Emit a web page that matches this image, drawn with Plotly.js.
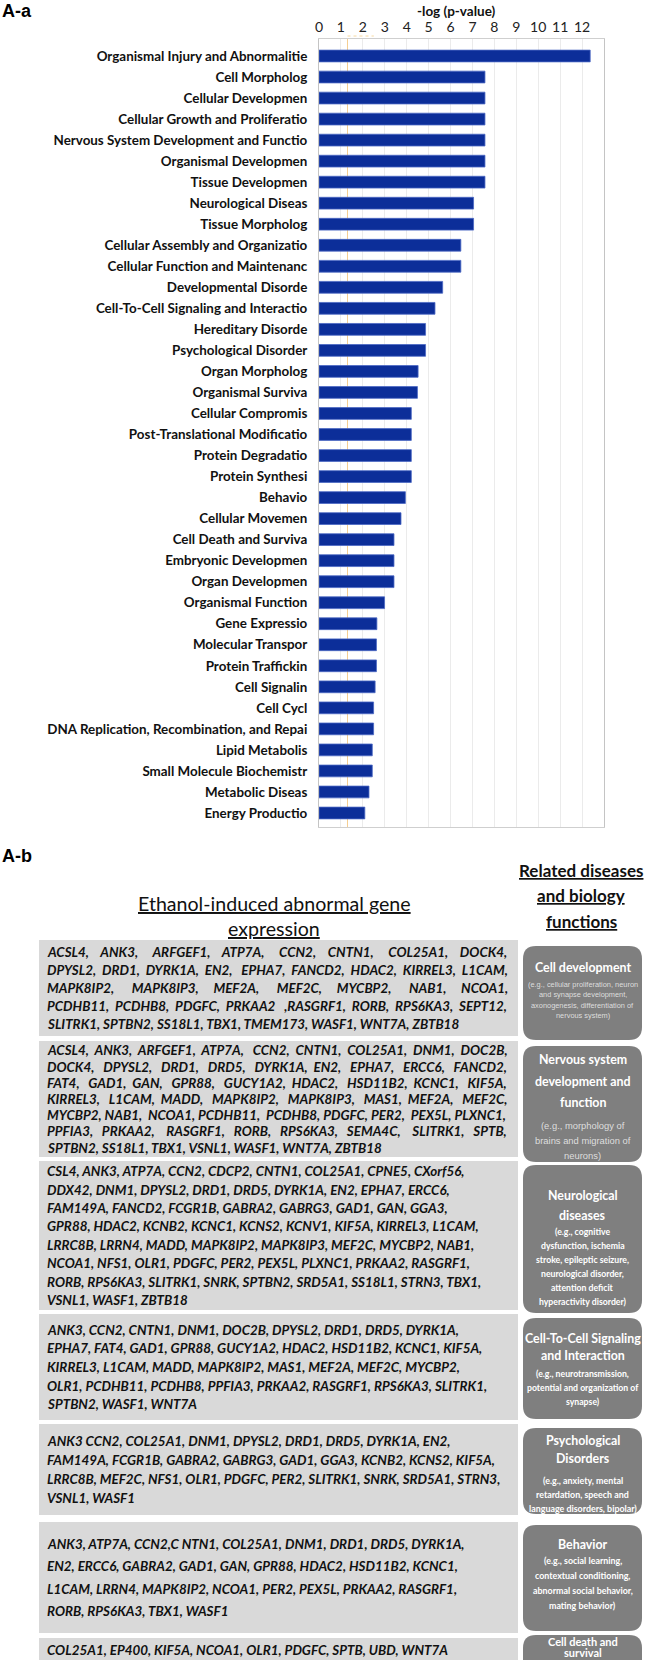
<!DOCTYPE html>
<html><head><meta charset="utf-8">
<script src="https://cdn.plot.ly/plotly-3.0.1.min.js"></script>
<style>html,body{margin:0;padding:0;background:#fff;}#chart{width:645px;height:1660px;}</style>
</head><body><div id="chart"></div>
<script>
// ---------------- DATA ----------------
const categories = ["Organismal Injury and Abnormalitie","Cell Morpholog","Cellular Developmen","Cellular Growth and Proliferatio","Nervous System Development and Functio","Organismal Developmen","Tissue Developmen","Neurological Diseas","Tissue Morpholog","Cellular Assembly and Organizatio","Cellular Function and Maintenanc","Developmental Disorde","Cell-To-Cell Signaling and Interactio","Hereditary Disorde","Psychological Disorder","Organ Morpholog","Organismal Surviva","Cellular Compromis","Post-Translational Modificatio","Protein Degradatio","Protein Synthesi","Behavio","Cellular Movemen","Cell Death and Surviva","Embryonic Developmen","Organ Developmen","Organismal Function","Gene Expressio","Molecular Transpor","Protein Traffickin","Cell Signalin","Cell Cycl","DNA Replication, Recombination, and Repai","Lipid Metabolis","Small Molecule Biochemistr","Metabolic Diseas","Energy Productio"];
const negLogP = [12.37,7.57,7.57,7.57,7.57,7.57,7.57,7.05,7.05,6.47,6.47,5.64,5.29,4.86,4.86,4.52,4.49,4.21,4.21,4.21,4.21,3.94,3.74,3.42,3.42,3.42,2.99,2.64,2.62,2.62,2.56,2.49,2.49,2.43,2.43,2.28,2.09];
const threshold = 1.3;
const xTickVals = [0,1,2,3,4,5,6,7,8,9,10,11,12];
const xTitle = "-log (p-value)";

const geneBox1 = ["ACSL4, ANK3, ARFGEF1, ATP7A, CCN2, CNTN1, COL25A1, DOCK4,","DPYSL2, DRD1, DYRK1A, EN2, EPHA7, FANCD2, HDAC2, KIRREL3, L1CAM,","MAPK8IP2, MAPK8IP3, MEF2A, MEF2C, MYCBP2, NAB1, NCOA1,","PCDHB11, PCDHB8, PDGFC, PRKAA2 ,RASGRF1, RORB, RPS6KA3, SEPT12,","SLITRK1, SPTBN2, SS18L1, TBX1, TMEM173, WASF1, WNT7A, ZBTB18"];
const geneBox2 = ["ACSL4, ANK3, ARFGEF1, ATP7A, CCN2, CNTN1, COL25A1, DNM1, DOC2B,","DOCK4, DPYSL2, DRD1, DRD5, DYRK1A, EN2, EPHA7, ERCC6, FANCD2,","FAT4, GAD1, GAN, GPR88, GUCY1A2, HDAC2, HSD11B2, KCNC1, KIF5A,","KIRREL3, L1CAM, MADD, MAPK8IP2, MAPK8IP3, MAS1, MEF2A, MEF2C,","MYCBP2, NAB1, NCOA1, PCDHB11, PCDHB8, PDGFC, PER2, PEX5L, PLXNC1,","PPFIA3, PRKAA2, RASGRF1, RORB, RPS6KA3, SEMA4C, SLITRK1, SPTB,","SPTBN2, SS18L1, TBX1, VSNL1, WASF1, WNT7A, ZBTB18"];
const geneBox3 = ["CSL4, ANK3, ATP7A, CCN2, CDCP2, CNTN1, COL25A1, CPNE5, CXorf56,","DDX42, DNM1, DPYSL2, DRD1, DRD5, DYRK1A, EN2, EPHA7, ERCC6,","FAM149A, FANCD2, FCGR1B, GABRA2, GABRG3, GAD1, GAN, GGA3,","GPR88, HDAC2, KCNB2, KCNC1, KCNS2, KCNV1, KIF5A, KIRREL3, L1CAM,","LRRC8B, LRRN4, MADD, MAPK8IP2, MAPK8IP3, MEF2C, MYCBP2, NAB1,","NCOA1, NFS1, OLR1, PDGFC, PER2, PEX5L, PLXNC1, PRKAA2, RASGRF1,","RORB, RPS6KA3, SLITRK1, SNRK, SPTBN2, SRD5A1, SS18L1, STRN3, TBX1,","VSNL1, WASF1, ZBTB18"];
const geneBox4 = ["ANK3, CCN2, CNTN1, DNM1, DOC2B, DPYSL2, DRD1, DRD5, DYRK1A,","EPHA7, FAT4, GAD1, GPR88, GUCY1A2, HDAC2, HSD11B2, KCNC1, KIF5A,","KIRREL3, L1CAM, MADD, MAPK8IP2, MAS1, MEF2A, MEF2C, MYCBP2,","OLR1, PCDHB11, PCDHB8, PPFIA3, PRKAA2, RASGRF1, RPS6KA3, SLITRK1,","SPTBN2, WASF1, WNT7A"];
const geneBox5 = ["ANK3 CCN2, COL25A1, DNM1, DPYSL2, DRD1, DRD5, DYRK1A, EN2,","FAM149A, FCGR1B, GABRA2, GABRG3, GAD1, GGA3, KCNB2, KCNS2, KIF5A,","LRRC8B, MEF2C, NFS1, OLR1, PDGFC, PER2, SLITRK1, SNRK, SRD5A1, STRN3,","VSNL1, WASF1"];
const geneBox6 = ["ANK3, ATP7A, CCN2,C NTN1, COL25A1, DNM1, DRD1, DRD5, DYRK1A,","EN2, ERCC6, GABRA2, GAD1, GAN, GPR88, HDAC2, HSD11B2, KCNC1,","L1CAM, LRRN4, MAPK8IP2, NCOA1, PER2, PEX5L, PRKAA2, RASGRF1,","RORB, RPS6KA3, TBX1, WASF1"];
const geneBox7 = ["COL25A1, EP400, KIF5A, NCOA1, OLR1, PDGFC, SPTB, UBD, WNT7A"];
const geneBoxes = [geneBox1, geneBox2, geneBox3, geneBox4, geneBox5, geneBox6, geneBox7];

const functionTitles = [["Cell development"],["Nervous system","development and","function"],["Neurological","diseases"],["Cell-To-Cell Signaling","and Interaction"],["Psychological","Disorders"],["Behavior"],["Cell death and","survival"]];
const functionExamples = [["(e.g., cellular proliferation, neuron","and synapse development,","axonogenesis, differentiation of","nervous system)"],["(e.g., morphology of","brains and migration of","neurons)"],["(e.g., cognitive","dysfunction, ischemia","stroke, epileptic seizure,","neurological disorder,","attention deficit","hyperactivity disorder)"],["(e.g., neurotransmission,","potential and organization of","synapse)"],["(e.g., anxiety, mental","retardation, speech and","language disorders, bipolar)"],["(e.g., social learning,","contextual conditioning,","abnormal social behavior,","mating behavior)"],[]];

const panelA = "A-a", panelB = "A-b";
const headerGenes = ["Ethanol-induced abnormal gene","expression"];
const headerFunctions = ["Related diseases","and biology","functions"];

// ---------------- LAYOUT / STYLE (pixels) ----------------
const W = 645, H = 1660;
const px = v => v / W;
const py = v => 1 - v / H;
const plotL = 319, plotR = 604, plotT = 39, plotB = 827;
const firstBarY = 56, lastBarY = 813;
const step = (lastBarY - firstBarY) / (categories.length - 1);
const yRange = [categories.length - 1 + (plotB - lastBarY) / step, -(firstBarY - plotT) / step];

const grayBoxes = [[940,1036],[1041,1157],[1161,1310],[1314,1420],[1424,1515],[1522,1633],[1638,1662]];
const darkBoxes = [[946,1040],[1046,1162],[1165,1313],[1318,1419],[1428,1514],[1525,1631],[1635,1675]];
const geneLineH = [18, 16.2, 18.4, 18.7, 19, 22.4, 18];
const justifyBox = [true,true,false,false,false,false,false];
const grayX = [39,518], darkX = [523,642];
const geneTextX = 46, justifyW = 460;
const geneFontSize = 13.4;
const titleYs = [[967],[1059,1081,1102],[1195,1215],[1338,1355],[1440,1458],[1544],[1641,1652]];
const descYs = [[984,994.5,1005,1015.5],[1125,1140,1155],[1231,1245,1259,1273,1287,1301],[1373,1387,1401],[1480,1494,1508],[1560,1575,1590,1605],[]];
const titleFont = {family:'Lato', size:12.4, weight:'bold', color:'#ffffff'};
const lastTitleFont = {family:'Lato', size:11, weight:'bold', color:'#ffffff'};
const descStyle = [
  {family:"Liberation Sans", size:7.4, color:"#dedede", weight:"normal"},
  {family:"Liberation Sans", size:9.4, color:"#dedede", weight:"normal"},
  {family:"Lato", size:8.7, color:"#ffffff", weight:"bold"},
  {family:"Lato", size:8.7, color:"#ffffff", weight:"bold"},
  {family:"Lato", size:8.9, color:"#ffffff", weight:"bold"},
  {family:"Lato", size:8.9, color:"#ffffff", weight:"bold"},
  {family:"Lato", size:8.9, color:"#ffffff", weight:"bold"}];

// text measurement for justified lines
const ctx = document.createElement('canvas').getContext('2d');
function measure(t, font){ ctx.font = font; return ctx.measureText(t).width; }
function justify(line, width, font){
  const words = line.split(' ');
  if (words.length < 2) return line;
  const extra = width - measure(line, font);
  if (extra <= 0) return line;
  const nb = measure('\u00a0', font);
  const total = Math.round(extra / nb), gaps = words.length - 1;
  let out = words[0];
  for (let i = 1; i < words.length; i++) {
    const n = Math.round(total * i / gaps) - Math.round(total * (i - 1) / gaps);
    out += ' ' + '\u00a0'.repeat(n) + words[i];
  }
  return out;
}
function roundRect(x0, y0, x1, y1, r){
  const rx = r / W, ry = r / H;
  const X0 = px(x0), X1 = px(x1), Y0 = py(y0), Y1 = py(y1);
  return `M ${X0+rx},${Y0} L ${X1-rx},${Y0} Q ${X1},${Y0} ${X1},${Y0-ry} L ${X1},${Y1+ry} Q ${X1},${Y1} ${X1-rx},${Y1} L ${X0+rx},${Y1} Q ${X0},${Y1} ${X0},${Y1+ry} L ${X0},${Y0-ry} Q ${X0},${Y0} ${X0+rx},${Y0} Z`;
}

const shapes = [
  {type:'line', xref:'x', yref:'paper', x0:threshold, x1:threshold, y0:py(plotB), y1:py(plotT), line:{color:'rgba(242,190,110,0.75)', width:1}, layer:'below'},
  {type:'line', xref:'x', yref:'paper', x0:threshold, x1:2.5, y0:py(plotT-3), y1:py(plotT-3), line:{color:'rgba(242,200,120,0.7)', width:1, dash:'dot'}}
];
const annotations = [];
function ann(text, x, y, font, xanchor){
  annotations.push({text, x:px(x), y:py(y), xref:'paper', yref:'paper', xanchor:xanchor||'center', yanchor:'middle', showarrow:false, font, borderpad:0});
}

ann(panelA, 1, 11, {family:'Liberation Sans', size:18, weight:'bold', color:'#000'}, 'left');
ann(xTitle, 456, 11, {family:'Lato', size:13.5, weight:'bold', color:'#111'});
ann(panelB, 1, 856, {family:'Liberation Sans', size:18, weight:'bold', color:'#000'}, 'left');
headerGenes.forEach((t,i)=> ann('<u>'+t+'</u>', 274, 903 + i*25, {family:'Lato', size:19.6, color:'#111'}));
headerFunctions.forEach((t,i)=> ann('<u>'+t+'</u>', 581, 870 + i*25.5, {family:'Lato', size:17, weight:'bold', color:'#111'}));

const geneFontCss = `italic bold ${geneFontSize}px Lato`;
geneBoxes.forEach((lines, b) => {
  const [t, bt] = grayBoxes[b];
  shapes.push({type:'rect', xref:'paper', yref:'paper', x0:px(grayX[0]), x1:px(grayX[1]), y0:py(bt), y1:py(t), fillcolor:'#d9d9d9', line:{width:0}, layer:'below'});
  const c = (t + bt) / 2;
  const y0 = c - (lines.length - 1) * geneLineH[b] / 2;
  lines.forEach((ln, i) => {
    const txt = (justifyBox[b] && i < lines.length - 1) ? justify(ln, justifyW, geneFontCss) : ln;
    ann(txt, geneTextX, y0 + i * geneLineH[b], {family:'Lato', size:geneFontSize, weight:'bold', style:'italic', color:'#111'}, 'left');
  });
  const [dt, db] = darkBoxes[b];
  shapes.push({type:'path', xref:'paper', yref:'paper', path:roundRect(darkX[0], dt, darkX[1], db, 13), fillcolor:'#7f7f7f', line:{width:0}, layer:'below'});
  const cx = (darkX[0] + darkX[1]) / 2;
  const tf = b === geneBoxes.length - 1 ? lastTitleFont : titleFont;
  functionTitles[b].forEach((tl, i) => ann(tl, cx, titleYs[b][i], tf));
  functionExamples[b].forEach((dl, i) => ann(dl, cx, descYs[b][i], descStyle[b]));
});

const trace = {
  type:'bar', orientation:'h', x:negLogP, y:categories, width:0.56,
  marker:{color:'#0c2e99', line:{color:'#4a67c4', width:0.8}}, hoverinfo:'x+y'
};

const layout = {
  width:W, height:H, margin:{l:0,r:0,t:0,b:0}, showlegend:false,
  paper_bgcolor:'#fff', plot_bgcolor:'#fff',
  font:{family:'Lato', color:'#111'},
  xaxis:{domain:[px(plotL), px(plotR)], range:[0,13], side:'top', tickvals:xTickVals, showgrid:true, gridcolor:'#ebebeb', gridwidth:1,
         zeroline:false, showline:true, mirror:true, linecolor:'#cfcfcf', linewidth:1, ticks:'', tickfont:{family:'Lato', size:14, color:'#222'}, fixedrange:true},
  yaxis:{domain:[py(plotB), py(plotT)], range:yRange, type:'category', showgrid:false, zeroline:false, showline:true, mirror:true, linecolor:'#c4c4c4', linewidth:1,
         ticks:'', ticklabelstandoff:8, tickfont:{family:'Lato', size:13.4, weight:'bold', color:'#111'}, fixedrange:true},
  shapes, annotations
};
Plotly.newPlot('chart', [trace], layout, {displayModeBar:false, staticPlot:true});
</script></body></html>
